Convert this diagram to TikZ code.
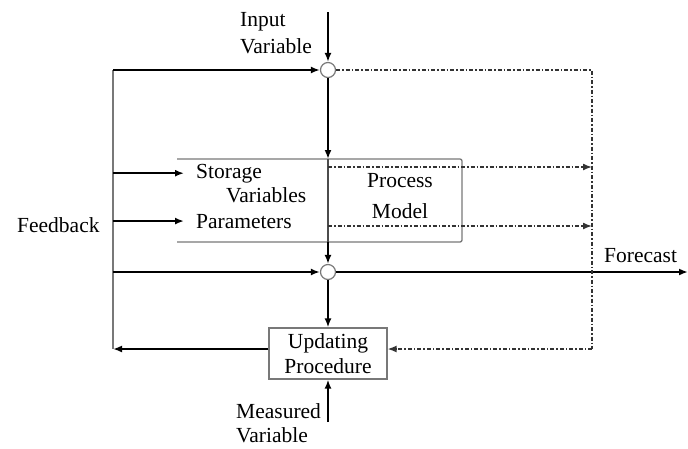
\documentclass[tikz,border=0pt]{standalone}
\usepackage{fontspec}
\setmainfont{Liberation Serif}
\usepackage{tikz}
\usetikzlibrary{arrows.meta, positioning, calc}
\definecolor{linegray}{RGB}{120,120,120}

\begin{document}
\begin{tikzpicture}[
            x=1pt, y=-1pt,
            lbl/.style={font=\fontsize{21.5}{27}\selectfont, inner sep=0pt, align=left},
            sum/.style={circle, draw=linegray, fill=white, line width=1.2pt, minimum size=15pt, inner sep=0pt},
            box/.style={rectangle, draw=linegray, line width=1.2pt, minimum width=118pt, minimum height=51pt, align=center, inner sep=0pt, font=\fontsize{21.5}{25}\selectfont},
            arrow/.style={-{Latex[length=9pt,width=7pt]}, line width=2pt},
            dashdot/.style={line width=1.5pt, black!80, dash pattern=on 4pt off 2pt on 1.5pt off 2pt},
            darrow/.style={dashdot, -{Latex[length=9pt,width=7pt]}},
            wire/.style={linegray, line width=1.3pt}
        ]
            \useasboundingbox (0,0) rectangle (688,448);

            % summing points and the updating step
            \node[sum] (sumIn) at (328,70) {};
            \node[sum] (sumOut) at (328,272) {};
            \node[box] (update) at (328,353.5) {Updating\\Procedure};

            % process model box, open on the left
            \coordinate (pmNW) at (177,159);
            \coordinate (pmSW) at (177,242);
            \coordinate (pmTop) at (328,159);
            \coordinate (pmBot) at (328,242);
            \draw[wire, rounded corners=2pt] (pmNW) -- (462,159) -- (462,242) -- (pmSW);
            \draw[wire, black!70] (pmTop) -- (pmBot);

            \node[lbl, anchor=base west] (stor) at (196,178) {Storage};
            \node[lbl, anchor=base west] (vars) at (226,202) {Variables};
            \node[lbl, anchor=base west] (pars) at (196,228) {Parameters};
            \node[lbl, anchor=base] (proc) at (400,187) {Process};
            \node[lbl, anchor=base] (model) at (400,218) {Model};

            % feedback loop on the left, forecast return on the right
            \coordinate (fbTop) at (113,70);
            \coordinate (fbBot) at (113,349);
            \coordinate (fcTop) at (592,70);
            \coordinate (fcBot) at (592,349);
            \coordinate (inTop) at (328,12);
            \coordinate (measBot) at (328,422);
            \coordinate (fcEnd) at (688,272);

            \draw[wire] (fbTop) -- (fbBot);
            \draw[arrow] (fbTop) -- (sumIn);
            \draw[arrow] (inTop) -- (sumIn);
            \draw[arrow] (sumIn) -- (pmTop);
            \draw[arrow] (stor.west -| fbTop) -- ([xshift=-12pt]stor.west);
            \draw[arrow] (pars.west -| fbTop) -- ([xshift=-12pt]pars.west);
            \draw[arrow] (pmBot) -- (sumOut);
            \draw[arrow] (fbTop |- sumOut) -- (sumOut);
            \draw[arrow] (sumOut) -- (fcEnd);
            \draw[arrow] (sumOut) -- (update);
            \draw[arrow] (measBot) -- (update);
            \draw[arrow] (update.west |- fbBot) -- (fbBot);

            \draw[dashdot] (sumIn) -- (fcTop) -- (fcBot);
            \draw[darrow] (fcBot) -- (update.east |- fcBot);
            \draw[darrow] (328,167) -- (fcTop |- 0,167);
            \draw[darrow] (328,226) -- (fcTop |- 0,226);

            % outer labels
            \node[lbl, anchor=base west] (input) at (240,53) {Input\\Variable};
            \node[lbl, anchor=base west] (meas) at (236,442) {Measured\\[-3pt]Variable};
            \node[lbl, anchor=base west] (fcast) at (604,262) {Forecast};
            \node[lbl, anchor=base west] (fback) at (17,232) {Feedback};
        \end{tikzpicture}
\end{document}
